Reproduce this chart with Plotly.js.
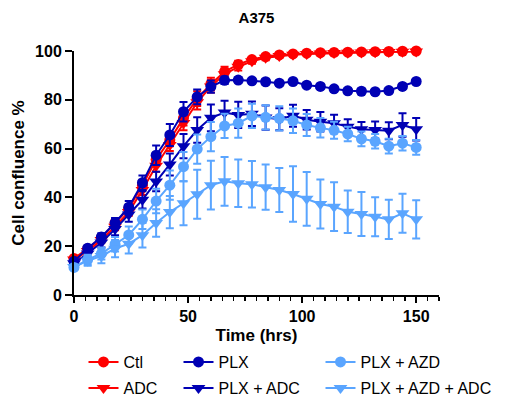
<!DOCTYPE html>
<html>
<head>
<meta charset="utf-8">
<script src="https://cdn.plot.ly/plotly-3.0.1.min.js"></script>
<style>html,body{margin:0;padding:0;background:#fff;}#chart{width:507px;height:398px;}</style>
</head>
<body>
<div id="chart"></div>
<script>
// Time points (hrs)
var timeHrs = [0,6,12,18,24,30,36,42,48,54,60,66,72,78,84,90,96,102,108,114,120,126,132,138,144,150];

// Series values (cell confluence %)
var ctl      = [15,19,23.5,29.5,35.5,45,55.5,63.5,72.5,80.5,86.5,91.5,94.5,96.5,97.7,98.4,98.8,99.1,99.3,99.4,99.5,99.6,99.7,99.8,99.9,100];
var ctlErr   = [1,1,1,1.5,1.5,2,2.5,2.5,3,3,2.5,2,1.5,1,1,0.8,0.6,0.5,0.5,0.5,0.5,0.5,0.5,0.5,0.5,0.5];
var adc      = [14.5,18,22.5,28,34,43,53,61.5,70.5,79,85.5,90.5,93.5,95.8,97.2,98,98.5,98.8,99,99.2,99.3,99.4,99.5,99.6,99.7,99.8];
var adcErr   = [1,1,1,1.5,1.5,2,2.5,2.5,3,3,2.5,2,1.5,1,1,0.8,0.6,0.5,0.5,0.5,0.5,0.5,0.5,0.5,0.5,0.5];
var plx      = [13.8,19.2,23.8,29.6,36,46,57.3,65.6,75.1,81.2,85.4,88,88.1,87.8,87.4,86.8,87.5,86,85.5,84.5,83.7,83.5,83.3,83.8,85.5,87.5];
var plxErr   = [1,1,1.5,2,2.5,3,4,4.5,4,3,2.5,1.5,1,1,1,1,1,1,1,1,1,1,1,1,1,1];
var plxAdc   = [13,17,21.5,27,33,39,46.5,53.5,61,67.6,72.6,74.8,73.8,74.3,72.7,72,73.5,71.8,71,70.4,69,67.9,67.6,67.3,69.7,67.9];
var plxAdcErr= [1,1.5,2,2.5,3,3.5,4,4.5,5,5.2,5.5,4.8,5.4,5,5,4.5,4.5,4,4,3.5,3,3,3.5,3.5,4.8,4.6];
var plxAzd   = [11.3,14.5,17,20.8,24.6,31,38.5,45,52.6,59.8,64.9,69.3,70.4,73.4,72.8,72.4,71.4,69.7,68.5,67.5,66,64,63,61,62.2,60.5];
var plxAzdErr= [1,2,2.5,3,3.5,4,5,6,6,6,6,5,6,5,5,5,5,4.5,4,3.5,3,3,3,3,3,3];
var plxAzdAdc= [11.5,14,16,19,21,24.5,29.5,34,37.6,41.3,45,46.6,45.8,45.4,44.2,43,41.4,39.4,37.3,36.2,34.1,33.2,32.1,31,33.5,31];
var plxAzdAdcErr=[1,2,3,3.5,4,5,5.6,6.6,9,10,10,10,9.7,9.5,9.3,9,11.4,11,10,10,8.7,9,8,8,8,7.8];

var seriesNames = ['Ctl','ADC','PLX','PLX + ADC','PLX + AZD','PLX + AZD + ADC'];
var seriesValues = [ctl, adc, plx, plxAdc, plxAzd, plxAzdAdc];
var seriesErrors = [ctlErr, adcErr, plxErr, plxAdcErr, plxAzdErr, plxAzdAdcErr];

var RED = '#FF0000', DARK = '#0000B4', LIGHT = '#5AA5FF';
var colors = [RED, RED, DARK, DARK, LIGHT, LIGHT];
var symbols = ['circle','triangle-down','circle','triangle-down','circle','triangle-down'];
var legendIds = ['legend','legend4','legend2','legend5','legend3','legend6'];

var traces = seriesNames.map(function(name, i){
  return {
    type: 'scatter', mode: 'lines+markers', name: name,
    x: timeHrs, y: seriesValues[i],
    error_y: {type: 'data', array: seriesErrors[i], visible: true, color: colors[i], thickness: 2, width: 4},
    line: {color: colors[i], width: 2},
    marker: {color: colors[i], size: symbols[i] === 'circle' ? 11 : 12, symbol: symbols[i], line: {width: 0}},
    cliponaxis: false,
    legend: legendIds[i]
  };
});

var legFont = {family: 'Liberation Sans, Arial, sans-serif', size: 16, color: '#000'};
function leg(x, y) {
  return {x: x, y: y, xanchor: 'left', yanchor: 'middle', xref: 'paper', yref: 'paper',
          bgcolor: 'rgba(0,0,0,0)', font: legFont, itemwidth: 30, orientation: 'v'};
}
var row1 = -(362 - 295)/244, row2 = -(388 - 295)/244;
var colX = [(83.5 - 74)/365, (178.5 - 74)/365, (320.5 - 74)/365];

var layout = {
  width: 507, height: 398,
  margin: {l: 74, r: 68, t: 51, b: 103, autoexpand: false},
  paper_bgcolor: '#fff', plot_bgcolor: '#fff',
  showlegend: true,
  title: {text: '<b>A375</b>', x: 0.5, xref: 'paper', y: 1 - 18/398, yref: 'container', yanchor: 'middle',
          font: {family: 'Liberation Sans, Arial, sans-serif', size: 15, color: '#000'}},
  xaxis: {
    range: [0, 160], showgrid: false, zeroline: false,
    showline: true, linewidth: 2, linecolor: '#000',
    tickmode: 'array', tickvals: [0, 50, 100, 150],
    ticks: 'outside', ticklen: 6, tickwidth: 2, tickcolor: '#000',
    minor: {ticks: 'outside', dtick: 5, tick0: 0, ticklen: 4, tickwidth: 1.5, tickcolor: '#000'},
    tickfont: {family: 'Liberation Sans, Arial, sans-serif', size: 16, color: '#000', weight: 'bold'},
    title: {text: '<b>Time (hrs)</b>', standoff: 5, font: {family: 'Liberation Sans, Arial, sans-serif', size: 17, color: '#000'}}
  },
  yaxis: {
    range: [0, 100], showgrid: false, zeroline: false,
    showline: true, linewidth: 2, linecolor: '#000',
    tickmode: 'array', tickvals: [0, 20, 40, 60, 80, 100],
    ticks: 'outside', ticklen: 7, tickwidth: 2, tickcolor: '#000',
    tickfont: {family: 'Liberation Sans, Arial, sans-serif', size: 16, color: '#000', weight: 'bold'},
    title: {text: '<b>Cell confluence %</b>', standoff: 6, font: {family: 'Liberation Sans, Arial, sans-serif', size: 17, color: '#000'}}
  },
  legend: leg(colX[0], row1),
  legend2: leg(colX[1], row1),
  legend3: leg(colX[2], row1),
  legend4: leg(colX[0], row2),
  legend5: leg(colX[1], row2),
  legend6: leg(colX[2], row2)
};

Plotly.newPlot('chart', traces, layout, {displayModeBar: false, staticPlot: true});
</script>
</body>
</html>
